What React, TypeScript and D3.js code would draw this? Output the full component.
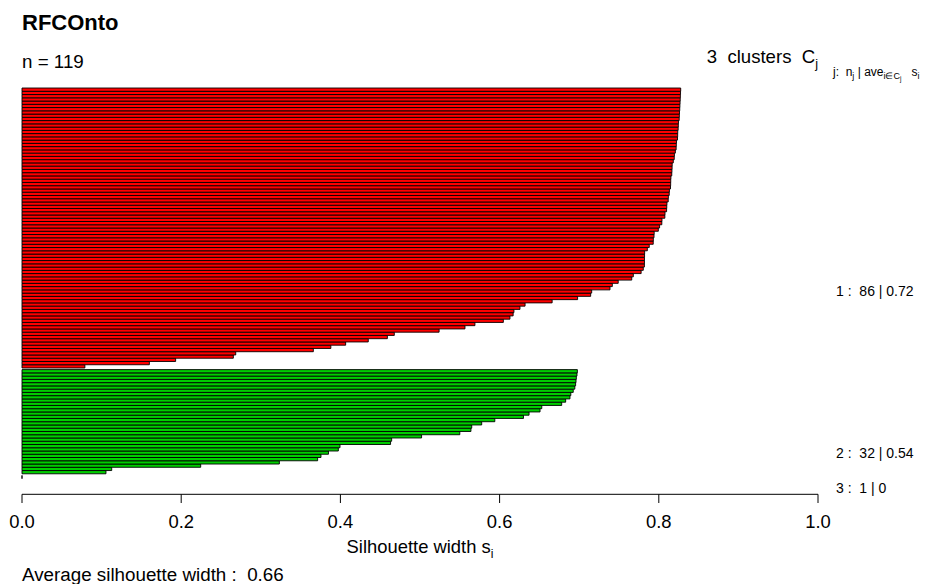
import React from "react";
import * as d3 from "d3";

// Silhouette widths, top to bottom within each cluster (sorted decreasing)
const cluster1: number[] = [
  0.8275, 0.8273, 0.8271, 0.8269, 0.8267, 0.8265, 0.8263, 0.826, 0.8258,
  0.8256, 0.8247, 0.8245, 0.8243, 0.8238, 0.8237, 0.8235, 0.8222, 0.822,
  0.8218, 0.8208, 0.8196, 0.8194, 0.8182, 0.8168, 0.8167, 0.8165, 0.8163,
  0.8152, 0.815, 0.8149, 0.8147, 0.8133, 0.8131, 0.812, 0.8118, 0.8102,
  0.81, 0.8098, 0.8078, 0.8076, 0.804, 0.8038, 0.801, 0.7994, 0.7942,
  0.794, 0.7931, 0.793, 0.788, 0.7856, 0.7822, 0.7821, 0.782, 0.782,
  0.7819, 0.7805, 0.7778, 0.768, 0.766, 0.749, 0.7416, 0.7387, 0.7157,
  0.7144, 0.698, 0.666, 0.632, 0.6256, 0.618, 0.617, 0.613, 0.6047, 0.569,
  0.5565, 0.524, 0.4677, 0.459, 0.435, 0.4066, 0.388, 0.366, 0.2685,
  0.2655, 0.193, 0.16, 0.079,
];
const cluster2: number[] = [
  0.6977, 0.6972, 0.6964, 0.696, 0.6955, 0.6945, 0.6925, 0.6895, 0.6884,
  0.683, 0.678, 0.653, 0.6508, 0.637, 0.63, 0.594, 0.5775, 0.565, 0.564,
  0.55, 0.502, 0.4644, 0.463, 0.3995, 0.3974, 0.385, 0.3756, 0.3714,
  0.3233, 0.2245, 0.1127, 0.1055,
];
const cluster3: number[] = [0];

const clusters: number[][] = [cluster1, cluster2, cluster3];
const clusterColors: string[] = ["#FF0000", "#00CD00", "#0000FF"];
const xTicks: number[] = [0, 0.2, 0.4, 0.6, 0.8, 1.0];
// label vertical anchor (in bar units from the bottom)
const labelUnits: number[] = [57.65, 7.9, -2.9];

const title = "RFCOnto";
const FONT = "'Liberation Sans', Arial, Helvetica, sans-serif";

export default function App() {
  const W = 927;
  const H = 584;
  const gap = 0.5;
  const total = clusters.reduce((s, c) => s + c.length, 0);
  const units = total + gap * (clusters.length - 1);
  const ext = units * 0.04;

  const x = d3.scaleLinear().domain([0, 1]).range([22, 818]);
  const y = d3.scaleLinear().domain([-ext, units + ext]).range([494.3, 72.4]);

  type Bar = { v: number; y0: number; y1: number; c: number };
  const bars: Bar[] = [];
  let pos = 0;
  for (let ci = clusters.length - 1; ci >= 0; ci--) {
    const vals = clusters[ci].slice().reverse();
    vals.forEach((v) => {
      bars.push({ v, y0: pos, y1: pos + 1, c: ci });
      pos += 1;
    });
    pos += gap;
  }

  const all = clusters.flat();
  const avgAll = d3.mean(all) ?? 0;
  const fmt = (v: number) => String(Number(v.toFixed(2)));

  const barPath = (b: Bar) => {
    const x0 = x(0), x1 = x(b.v);
    const ya = y(b.y1), yb = y(b.y0);
    return `M${x0},${ya}H${x1}V${yb}H${x0}Z`;
  };

  return (
    <svg
      width={W}
      height={H}
      style={{ position: "absolute", left: 0, top: 0, background: "#fff" }}
      fontFamily={FONT}
    >
      <rect x={0} y={0} width={W} height={H} fill="#fff" />
      {bars.map((b, i) => (
        <path
          key={i}
          d={barPath(b)}
          fill={clusterColors[b.c]}
          stroke="#000"
          strokeWidth={0.9}
        />
      ))}

      {/* x axis */}
      <line x1={x(0)} x2={x(1)} y1={494.3} y2={494.3} stroke="#000" strokeWidth={1} />
      {xTicks.map((t) => (
        <g key={t}>
          <line x1={x(t)} x2={x(t)} y1={494.3} y2={503} stroke="#000" strokeWidth={1} />
          <text x={x(t)} y={528} textAnchor="middle" fontSize={18.4} fill="#000">
            {t.toFixed(1)}
          </text>
        </g>
      ))}
      <text x={x(0.5)} y={553} textAnchor="middle" fontSize={18.4} fill="#000">
        Silhouette width s
        <tspan fontSize={12} dy={5}>i</tspan>
      </text>
      <text x={22} y={581} fontSize={18.8} fill="#000" style={{ whiteSpace: "pre" }}>
        {`Average silhouette width :  ${fmt(avgAll)}`}
      </text>

      {/* titles */}
      <text x={22} y={30} fontSize={22} fontWeight="bold" fill="#000">
        {title}
      </text>
      <text x={22} y={68} fontSize={18.8} fill="#000">
        {`n = ${total}`}
      </text>
      <text x={818} y={63} textAnchor="end" fontSize={18.6} fill="#000" style={{ whiteSpace: "pre" }}>
        {`${clusters.length}  clusters  C`}
        <tspan fontSize={12.5} dy={5}>j</tspan>
      </text>
      <text x={833} y={76} fontSize={12} fill="#000" style={{ whiteSpace: "pre" }}>
        {"j:  n"}
        <tspan fontSize={9} dy={3}>j</tspan>
        <tspan dy={-3}>{" | ave"}</tspan>
        <tspan fontSize={9} dy={3}>{"i∈C"}</tspan>
        <tspan fontSize={6.5} dy={2}>j</tspan>
        <tspan dy={-5}>{"   s"}</tspan>
        <tspan fontSize={9} dy={3}>i</tspan>
      </text>

      {/* cluster labels */}
      {clusters.map((c, i) => (
        <text
          key={i}
          x={836}
          y={y(labelUnits[i]) + 5}
          fontSize={14}
          fill="#000"
          style={{ whiteSpace: "pre" }}
        >
          {`${i + 1} :  ${c.length} | ${fmt(d3.mean(c) ?? 0)}`}
        </text>
      ))}
    </svg>
  );
}
